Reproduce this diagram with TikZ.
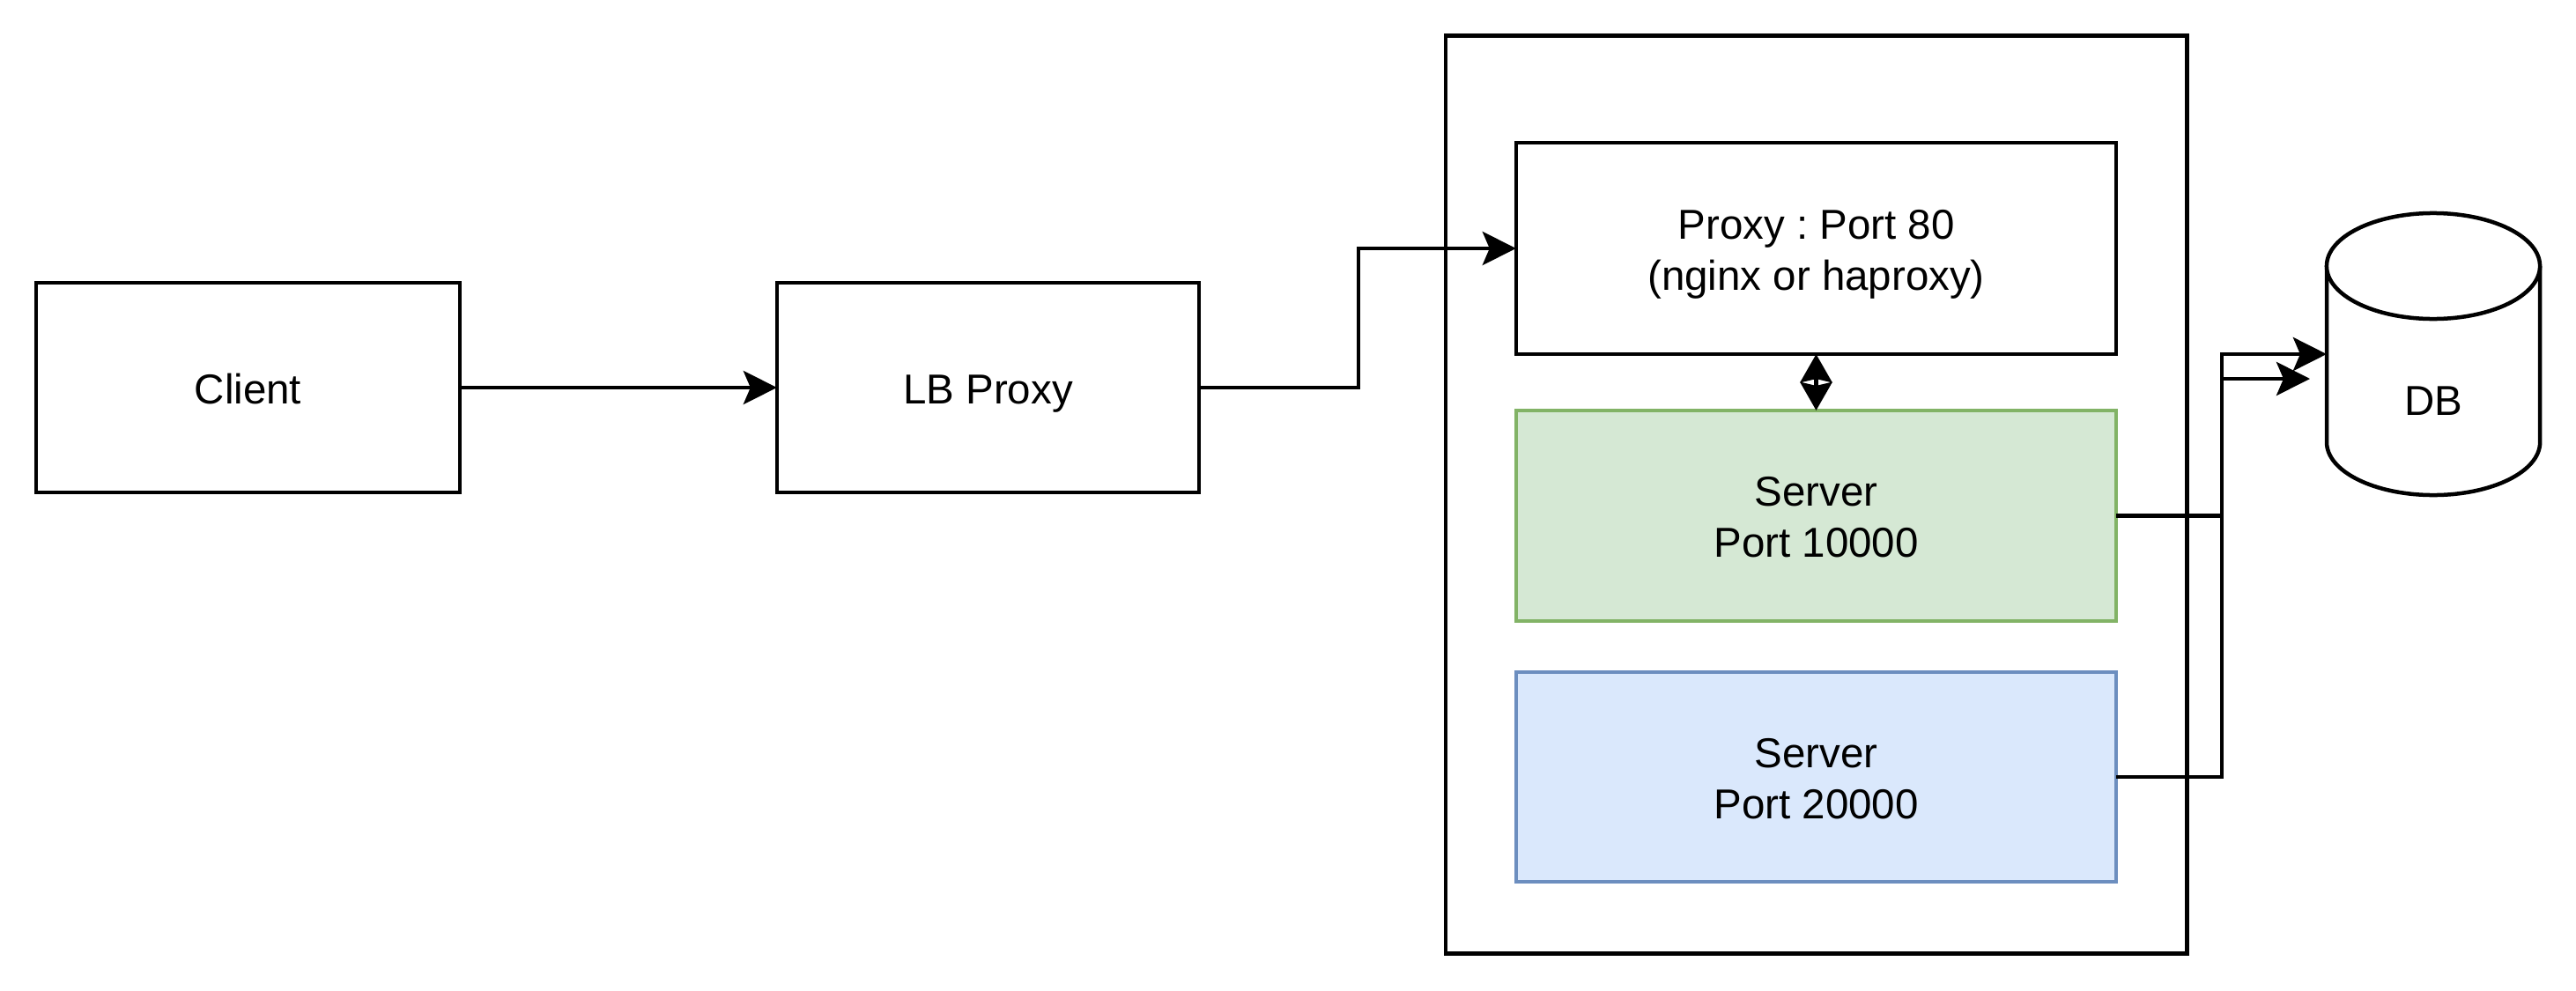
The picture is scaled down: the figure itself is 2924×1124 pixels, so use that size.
\documentclass[tikz,border=0pt]{standalone}
\usepackage{fontspec}
\setmainfont{Liberation Sans}
\usetikzlibrary{arrows.meta}
\definecolor{gfill}{HTML}{D5E8D4}
\definecolor{gline}{HTML}{82B366}
\definecolor{bfill}{HTML}{DAE8FC}
\definecolor{bline}{HTML}{6C8EBF}
\frenchspacing
\newcommand\lowtext[1]{\raisebox{-0.065cm}[\height][\depth]{\begin{tabular}{@{}c@{}}#1\end{tabular}}}
\begin{document}
\begin{tikzpicture}[x=0.01cm,y=-0.01cm,
  line width=0.045cm,
  txt/.style={font=\fontsize{13.5}{16.5}\selectfont},
  box/.style={draw=black, fill=white, inner sep=0pt, outer sep=0pt, txt},
  arr/.style={-{Stealth[length=0.38cm,width=0.38cm,inset=0.08cm]}},
  darr/.style={{Stealth[length=0.32cm,width=0.36cm,inset=0.04cm]}-{Stealth[length=0.32cm,width=0.36cm,inset=0.04cm]}}]
\path[use as bounding box] (0,0) rectangle (2924,1124);
\node[box, minimum width=4.81cm, minimum height=2.38cm] (client) at (281.5,440) {\lowtext{Client}};
\node[box, minimum width=4.79cm, minimum height=2.38cm] (lb) at (1121.5,440) {\lowtext{LB Proxy}};
\node[draw, inner sep=0pt, outer sep=0pt, minimum width=8.41cm, minimum height=10.41cm] (cont) at (2061.5,561.5) {};
\node[box, minimum width=6.81cm, minimum height=2.40cm] (proxy) at (2061.5,282) {\lowtext{Proxy : Port 80\\(nginx or haproxy)}};
\node[box, draw=gline, fill=gfill, minimum width=6.81cm, minimum height=2.39cm] (s1) at (2061.5,585.5) {\lowtext{Server\\Port 10000}};
\node[box, draw=bline, fill=bfill, minimum width=6.81cm, minimum height=2.38cm] (s2) at (2061.5,882) {\lowtext{Server\\Port 20000}};
% DB cylinder
\node[inner sep=0pt, outer sep=0pt, minimum width=2.42cm, minimum height=3.20cm] (db) at (2762,402) {};
\draw (2641,302) -- (2641,502) arc[start angle=180, end angle=360, x radius=1.21cm, y radius=0.6cm] -- (2883,302);
\draw[fill=white] (2762,302) ellipse [x radius=1.21cm, y radius=0.6cm];
\node[txt, inner sep=0pt] (dblabel) at (2762,453) {\lowtext{DB}};
\coordinate (dbin2) at (2622,430);
% connectors
\draw[arr] (client.east) -- (lb.west);
\draw[arr] (lb.east) -- ++(181,0) |- (proxy.west);
\draw[darr] (proxy.south) -- (s1.north);
\draw[arr] (s1.east) -| (2522,430) -- (dbin2);
\draw[arr] (s2.east) -| (2522,402) -- (db.west);
\end{tikzpicture}
\end{document}
